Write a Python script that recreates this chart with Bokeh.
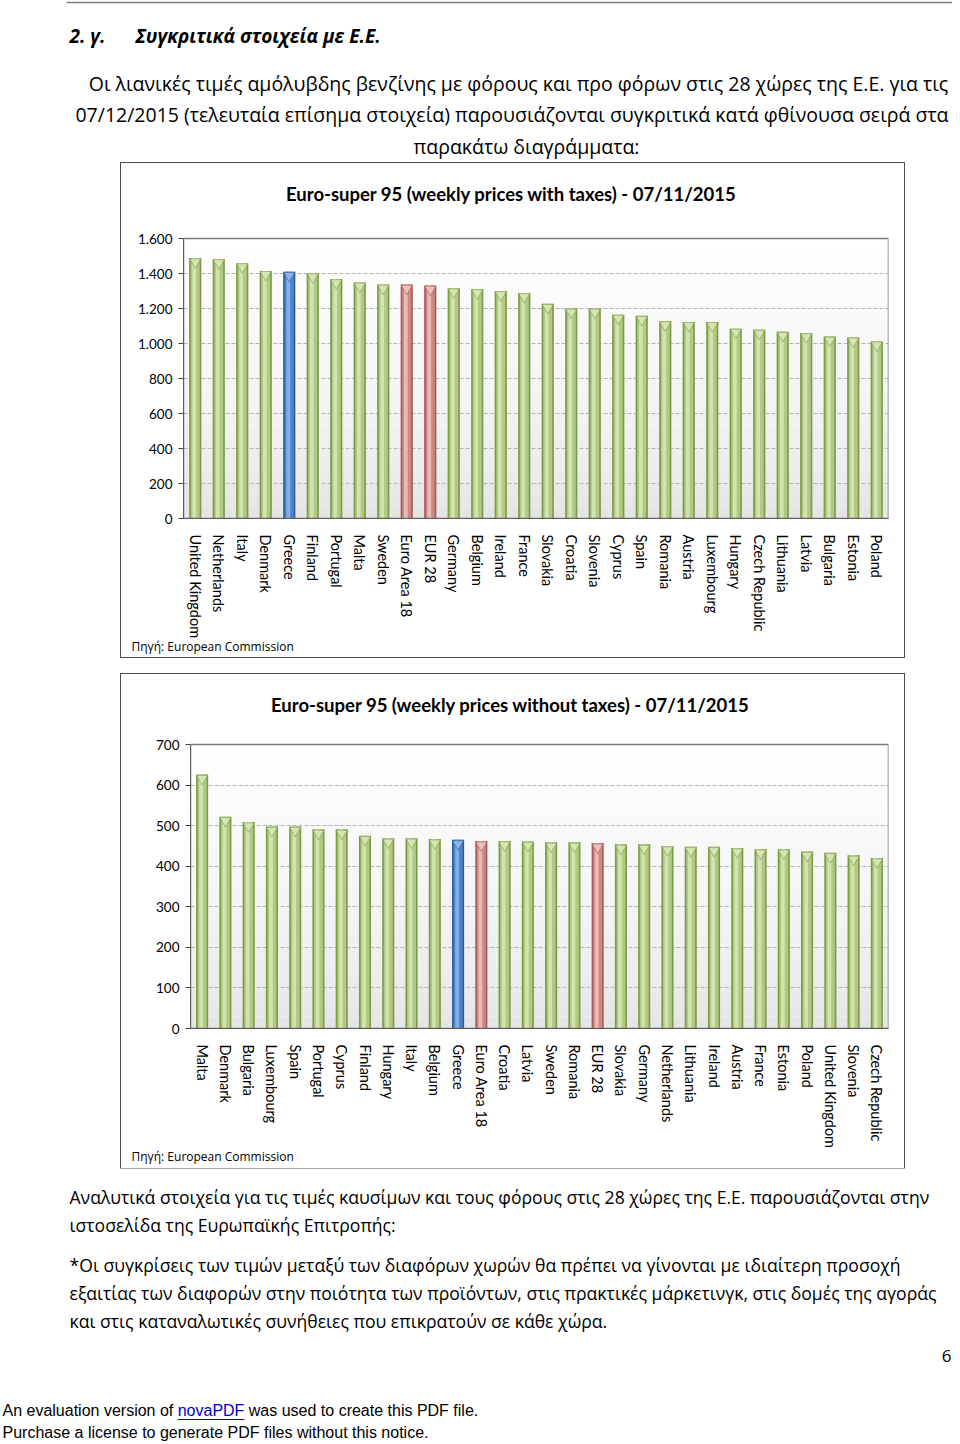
from bokeh.plotting import figure
from bokeh.models import (Range1d, FixedTicker, CustomJSTickFormatter, ColumnDataSource, Title,
                          Label, BoxAnnotation)
from bokeh.transform import dodge
from bokeh.embed import file_html
from bokeh.resources import INLINE
from bokeh.core.properties import value

# ---------------- data ----------------
countries_tax = ["United Kingdom", "Netherlands", "Italy", "Denmark", "Greece", "Finland", "Portugal",
                 "Malta", "Sweden", "Euro Area 18", "EUR 28", "Germany", "Belgium", "Ireland", "France",
                 "Slovakia", "Croatia", "Slovenia", "Cyprus", "Spain", "Romania", "Austria", "Luxembourg",
                 "Hungary", "Czech Republic", "Lithuania", "Latvia", "Bulgaria", "Estonia", "Poland"]
prices_tax = [1488, 1482, 1459, 1415, 1410, 1402, 1368, 1349, 1337, 1337, 1331, 1316, 1311, 1300, 1289,
              1227, 1200, 1200, 1165, 1158, 1127, 1123, 1123, 1085, 1079, 1067, 1060, 1040, 1035, 1012]

countries_notax = ["Malta", "Denmark", "Bulgaria", "Luxembourg", "Spain", "Portugal", "Cyprus", "Finland",
                   "Hungary", "Italy", "Belgium", "Greece", "Euro Area 18", "Croatia", "Latvia", "Sweden",
                   "Romania", "EUR 28", "Slovakia", "Germany", "Netherlands", "Lithuania", "Ireland",
                   "Austria", "France", "Estonia", "Poland", "United Kingdom", "Slovenia", "Czech Republic"]
prices_notax = [626, 522, 509, 498, 498, 491, 491, 475, 469, 469, 467, 465, 462, 462, 461, 459, 459, 457,
                454, 454, 450, 448, 448, 445, 442, 442, 436, 433, 427, 420]

ticks_tax = [0, 200, 400, 600, 800, 1000, 1200, 1400, 1600]
ticks_notax = [0, 100, 200, 300, 400, 500, 600, 700]

title_tax = "Euro-super 95 (weekly prices with taxes) - 07/11/2015"
title_notax = "Euro-super 95 (weekly prices without taxes) - 07/11/2015"
source_txt = "Πηγή: European Commission"

GREEK = "Open Sans"
LATIN = "Lato"

GREEN = ("#7E9A45", "#B1C982", "#D6E5B5")
BLUE = ("#2F5F9A", "#4F84CB", "#8DB4E6")
RED = ("#A65C59", "#CC8886", "#EBC0BE")


def scheme(c):
    if c == "Greece":
        return BLUE
    if c in ("Euro Area 18", "EUR 28"):
        return RED
    return GREEN


def make_chart(cats, vals, ticks, title, left, right, bottom, plot_w, plot_h, head_h,
               title_x, title_gap, src_off, cap_off):
    """plot_h: pixel height of the 0..max area; head_h: white band above it (inside the frame)."""
    frame_h = plot_h + head_h
    y_top = ticks[-1]
    y_end = y_top * frame_h / plot_h
    cols = [scheme(c) for c in cats]
    src = ColumnDataSource(dict(cat=cats, val=vals,
                                dark=[c[0] for c in cols], mid=[c[1] for c in cols],
                                light=[c[2] for c in cols]))
    p = figure(x_range=cats, y_range=Range1d(0, y_end),
               width=left + plot_w + right, height=frame_h + bottom,
               min_border_left=left, min_border_right=right, min_border_top=0,
               min_border_bottom=bottom, output_backend="svg", toolbar_location=None)
    p.x_range.range_padding = 0
    p.background_fill_color = "white"
    p.border_fill_color = "white"
    p.outline_line_color = None

    # soft vertical gradient of the plot area (white at top, light grey at the floor)
    nb = 24
    for i in range(nb):
        t = (i + 0.5) / nb
        g = int(round(226 + (255 - 226) * (t ** 0.6)))
        p.add_layout(BoxAnnotation(bottom=y_top * i / nb, top=y_top * (i + 1) / nb,
                                   fill_color="#%02x%02x%02x" % (g, g, g), fill_alpha=1.0,
                                   line_color=None, level="image"))

    p.vbar(x="cat", top="val", width=0.52, bottom=0, source=src, fill_color="dark", line_color=None)
    p.vbar(x="cat", top="val", width=0.38, bottom=0, source=src, fill_color="mid", line_color=None)
    p.vbar(x=dodge("cat", -0.04, range=p.x_range), top="val", width=0.16, bottom=0, source=src,
           fill_color="light", line_color=None, fill_alpha=0.9)
    p.scatter(x="cat", y=dodge("val", -cap_off), source=src, marker="inverted_triangle", size=11,
              fill_color="light", line_color="dark", line_width=0.6)

    p.xgrid.grid_line_color = None
    p.ygrid.grid_line_color = "#B5B5B5"
    p.ygrid.grid_line_dash = "4 2"
    p.ygrid.grid_line_width = 1

    # plot-area border (drawn above the grid)
    p.add_layout(BoxAnnotation(bottom=0, top=y_top, fill_color=None, fill_alpha=0.0,
                               line_color="#7A7A7A", line_alpha=1.0, line_width=1.5,
                               level="overlay"))

    p.yaxis.ticker = FixedTicker(ticks=ticks)
    p.yaxis.bounds = (0, y_top)
    p.yaxis.formatter = CustomJSTickFormatter(code="""
        var s = Math.round(tick).toString();
        return s.length > 3 ? s.slice(0, -3) + '.' + s.slice(-3) : s;
    """)
    p.yaxis.axis_line_color = "#404040"
    p.yaxis.major_tick_line_color = "#404040"
    p.yaxis.major_tick_out = 5
    p.yaxis.major_tick_in = 0
    p.yaxis.minor_tick_line_color = None
    p.yaxis.major_label_text_font = LATIN
    p.yaxis.major_label_text_font_size = "13.5px"
    p.yaxis.major_label_text_color = "#000000"
    p.yaxis.major_label_standoff = 6

    p.xaxis.axis_line_color = "#404040"
    p.xaxis.major_tick_line_color = None
    p.xaxis.major_label_orientation = "vertical"
    p.xaxis.major_label_text_font = LATIN
    p.xaxis.major_label_text_font_size = "14.5px"
    p.xaxis.major_label_text_color = "#000000"
    p.xaxis.major_label_standoff = 10

    p.add_layout(Label(x=title_x, x_units="screen", y=y_top * (plot_h + title_gap) / plot_h,
                       y_units="data", text=title, text_font=LATIN, text_font_style="bold",
                       text_font_size="18.5px", text_align="center", text_baseline="middle",
                       text_color="#000000"))
    p.add_layout(Title(text=source_txt, align="left", offset=src_off, standoff=-8, vertical_align="top",
                       text_font=GREEK, text_font_style="normal", text_font_size="12px",
                       text_color="#000000"), "below")

    p.styles = {"outline": "1px solid #4D4D4D", "outline-offset": "0px"}
    return p


chart1 = make_chart(countries_tax, prices_tax, ticks_tax, title_tax,
                    62, 16, 139, 705, 280, 75, 328, 45, -52, 22)
chart1.margin = (0, 0, 0, 121)

chart2 = make_chart(countries_notax, prices_notax, ticks_notax, title_notax,
                    69, 16, 140, 698, 284, 70, 320, 40, -59, 10)
chart2.margin = (17, 0, 0, 121)


def text_fig(h):
    f = figure(width=952, height=h, x_range=Range1d(0, 952), y_range=Range1d(h, 0),
               x_axis_type=None, y_axis_type=None,
               output_backend="svg", toolbar_location=None, min_border=0)
    f.grid.visible = False
    f.outline_line_color = None
    return f


# ---------------- header ----------------
header = text_fig(162)
header.segment(x0=[66], y0=[2], x1=[952], y1=[2], line_color="#7F7F7F", line_width=1.5)
header.text(x=[69], y=[35], text=["2. γ."], text_font=value(GREEK), text_font_style="bold italic",
            text_font_size="19px", text_baseline="middle", text_align="left", text_color="#000000")
header.text(x=[135], y=[35], text=["Συγκριτικά στοιχεία με Ε.Ε."], text_font=value(GREEK),
            text_font_style="bold italic", text_font_size="19px", text_baseline="middle",
            text_align="left", text_color="#000000")
para = ["Οι λιανικές τιμές αμόλυβδης βενζίνης με φόρους και προ φόρων στις 28 χώρες της Ε.Ε. για τις",
        "07/12/2015 (τελευταία επίσημα στοιχεία) παρουσιάζονται συγκριτικά κατά φθίνουσα σειρά στα",
        "παρακάτω διαγράμματα:"]
header.text(x=[518, 511.5, 526], y=[83, 114, 146], text=para, text_font=value(GREEK),
            text_font_size="19.5px", text_baseline="middle", text_align="center", text_color="#000000")
header.margin = (0, 0, 1, 0)

# ---------------- footer ----------------
footer = text_fig(274)
foot = ["Αναλυτικά στοιχεία για τις τιμές καυσίμων και τους φόρους στις 28 χώρες της Ε.Ε. παρουσιάζονται στην",
        "ιστοσελίδα της Ευρωπαϊκής Επιτροπής:",
        "*Οι συγκρίσεις των τιμών μεταξύ των διαφόρων χωρών θα πρέπει να γίνονται με ιδιαίτερη προσοχή",
        "εξαιτίας των διαφορών στην ποιότητα των προϊόντων, στις πρακτικές μάρκετινγκ, στις δομές της αγοράς",
        "και στις καταναλωτικές συνήθειες που επικρατούν σε κάθε χώρα."]
footer.text(x=[69] * 5, y=[28, 56, 96, 124, 152], text=foot, text_font=value(GREEK),
            text_font_size="17.6px", text_baseline="middle", text_align="left", text_color="#000000")
footer.text(x=[951], y=[187], text=["6"], text_font=value(GREEK), text_font_size="17px",
            text_baseline="middle", text_align="right", text_color="#000000")
footer.text(x=[2, 177.2, 248.3, 2], y=[242, 242, 242, 264],
            text=["An evaluation version of", "novaPDF", "was used to create this PDF file.",
                  "Purchase a license to generate PDF files without this notice."],
            text_font=value("Liberation Sans"), text_font_size="16px", text_baseline="middle",
            text_align="left", text_color=["#000000", "#0000CC", "#000000", "#000000"])
footer.segment(x0=[177.2], y0=[251], x1=[243.9], y1=[251], line_color="#0000CC", line_width=1)

roots = [header, chart1, chart2, footer]
open("out.html", "w").write(file_html(roots, INLINE))
